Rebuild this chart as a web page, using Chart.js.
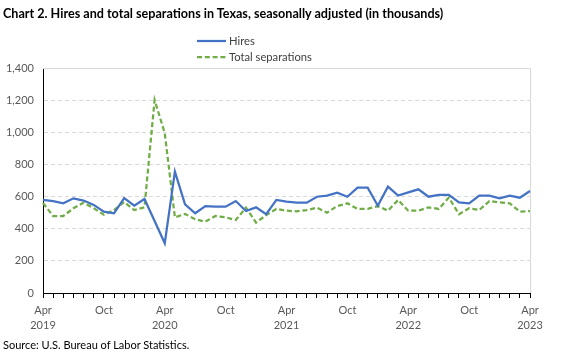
<!DOCTYPE html>
<html>
<head>
<meta charset="utf-8">
<script src="https://cdn.jsdelivr.net/npm/chart.js@4"></script>
<style>
  html, body { margin: 0; padding: 0; background: #fff; }
  #wrap { position: relative; width: 563px; height: 356px; overflow: hidden; font-family: Lato, "Liberation Sans", sans-serif; }
  #title { position: absolute; left: 3px; top: 6px; font-size: 12.6px; font-weight: bold; color: #000; white-space: nowrap; }
  #source { position: absolute; left: 3px; top: 338px; font-size: 11px; color: #000; white-space: nowrap; }
  .leg { position: absolute; left: 197px; font-size: 11.2px; color: #404040; white-space: nowrap; height: 16px; line-height: 16px; }
  .leg svg { position: absolute; left: 0; top: 0; }
  .leg span { position: absolute; left: 32px; top: 0; }
  canvas { position: absolute; left: 0; top: 0; }
</style>
</head>
<body>
<div id="wrap">
  <canvas id="c" width="563" height="356"></canvas>
  <div id="title">Chart 2. Hires and total separations in Texas, seasonally adjusted (in thousands)</div>
  <div class="leg" style="top:33px"><svg width="30" height="16"><line x1="0" y1="8" x2="29" y2="8" stroke="#4472C4" stroke-width="2.25"/></svg><span>Hires</span></div>
  <div class="leg" style="top:49px"><svg width="30" height="16"><line x1="0" y1="8" x2="29" y2="8" stroke="#70AD47" stroke-width="2.25" stroke-dasharray="5,2.8"/></svg><span>Total separations</span></div>
  <div id="source">Source: U.S. Bureau of Labor Statistics.</div>
</div>
<script>
const categories = ["Apr 2019","May 2019","Jun 2019","Jul 2019","Aug 2019","Sep 2019","Oct 2019","Nov 2019","Dec 2019",
  "Jan 2020","Feb 2020","Mar 2020","Apr 2020","May 2020","Jun 2020","Jul 2020","Aug 2020","Sep 2020","Oct 2020","Nov 2020","Dec 2020",
  "Jan 2021","Feb 2021","Mar 2021","Apr 2021","May 2021","Jun 2021","Jul 2021","Aug 2021","Sep 2021","Oct 2021","Nov 2021","Dec 2021",
  "Jan 2022","Feb 2022","Mar 2022","Apr 2022","May 2022","Jun 2022","Jul 2022","Aug 2022","Sep 2022","Oct 2022","Nov 2022","Dec 2022",
  "Jan 2023","Feb 2023","Mar 2023","Apr 2023"];

const hires = [579,572,558,589,575,548,506,496,591,
  543,585,448,309,755,552,496,541,537,537,572,510,
  533,490,579,568,562,562,599,606,624,599,655,655,
  543,662,606,626,645,599,610,610,564,558,606,606,
  589,606,593,635];

const separations = [560,479,479,527,562,527,487,516,566,
  516,533,1201,995,471,492,459,444,479,471,454,531,
  438,485,523,512,508,516,531,500,541,558,523,523,
  541,512,579,512,512,533,523,594,490,527,516,572,
  564,558,506,510];

const yTicks = [0,200,400,600,800,1000,1200,1400];
const shownMonths = ["Apr","Oct"];

const FONT = "Lato, 'Liberation Sans', sans-serif";

const frame = {
  id: 'frame',
  beforeDatasetsDraw(chart) {
    const {ctx, chartArea: a} = chart;
    ctx.save();
    ctx.strokeStyle = '#d9d9d9';
    ctx.lineWidth = 1;
    ctx.beginPath();
    ctx.moveTo(a.left, a.top + 0.5);
    ctx.lineTo(a.right + 0.5, a.top + 0.5);
    ctx.lineTo(a.right + 0.5, a.bottom);
    ctx.stroke();
    ctx.restore();
  }
};

new Chart(document.getElementById('c'), {
  type: 'line',
  data: {
    labels: categories,
    datasets: [
      { label: 'Hires', data: hires, borderColor: '#4472C4', borderWidth: 2.25, pointRadius: 0, tension: 0, fill: false },
      { label: 'Total separations', data: separations, borderColor: '#70AD47', borderWidth: 2.25, borderDash: [5, 2.8], pointRadius: 0, tension: 0, fill: false }
    ]
  },
  options: {
    responsive: false,
    animation: false,
    layout: { padding: { left: 3, right: 33, top: 68, bottom: 0 } },
    plugins: { legend: { display: false }, title: { display: false }, tooltip: { enabled: false } },
    scales: {
      x: {
        offset: false,
        afterFit(s) { s.height = 63; },
        grid: { display: true, drawOnChartArea: false, drawTicks: true, tickLength: 5, tickColor: '#000', color: '#000' },
        border: { display: true, color: '#000', width: 1 },
        ticks: {
          autoSkip: false, maxRotation: 0, minRotation: 0, padding: 4,
          color: '#595959',
          font: { family: FONT, size: 11, lineHeight: 1.45 },
          callback(v, i) {
            const parts = categories[i].split(' ');
            if (parts[0] === 'Apr') return [parts[0], parts[1]];
            if (shownMonths.includes(parts[0])) return parts[0];
            return '';
          }
        }
      },
      y: {
        min: yTicks[0], max: yTicks[yTicks.length - 1],
        afterFit(s) { s.width = 40; },
        afterBuildTicks(s) { s.ticks = yTicks.map(v => ({ value: v })); },
        grid: { color: '#d9d9d9', lineWidth: 1, drawTicks: false },
        border: { display: true, color: '#000', width: 1, dash: [4, 3] },
        ticks: {
          padding: 9, color: '#595959',
          font: { family: FONT, size: 11 },
          callback(v) { return v.toLocaleString('en-US'); }
        }
      }
    }
  },
  plugins: [frame]
});
</script>
</body>
</html>
